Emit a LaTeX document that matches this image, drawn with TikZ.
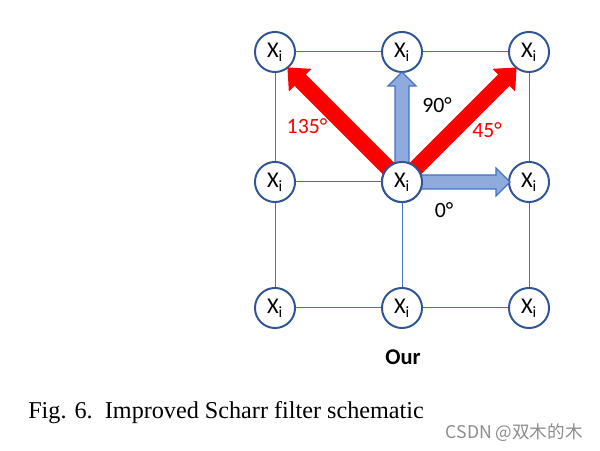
\documentclass[tikz,border=0pt]{standalone}
\usepackage{fontspec}
\setmainfont{Liberation Serif}
\newfontfamily\labelfont{Carlito}
\newfontfamily\cjkfont{Noto Sans CJK SC}
\definecolor{gridblue}{HTML}{4472C4}
\definecolor{ringblue}{HTML}{2F5597}
\definecolor{arrowblue}{HTML}{8FAADC}
\tikzset{
  xnode/.style={circle, draw=ringblue, line width=1.4pt, fill=white, minimum size=28.5pt, inner sep=0pt, font=\labelfont\fontsize{16}{16}\selectfont},
  gridline/.style={draw=gridblue, line width=0.7pt},
  redarrow/.style={fill=red},
  bluearrow/.style={fill=arrowblue, draw=gridblue, line width=0.8pt},
  anglelabel/.style={font=\labelfont\fontsize{15.5}{15.5}\selectfont}
}
\newcommand{\xlabel}{X\textsubscript{i}}
\begin{document}
\begin{tikzpicture}[x=0.025cm, y=0.025cm]
      \useasboundingbox (0,0) rectangle (600,451);

      % Grid of pixels
      \node[xnode] (x11) at (275,399) {\xlabel};
      \node[xnode] (x12) at (402,399) {\xlabel};
      \node[xnode] (x13) at (529,399) {\xlabel};
      \node[xnode] (x21) at (275,269) {\xlabel};
      \node[xnode] (x22) at (402,269) {\xlabel};
      \node[xnode] (x23) at (529,269) {\xlabel};
      \node[xnode] (x31) at (275,143) {\xlabel};
      \node[xnode] (x32) at (402,143) {\xlabel};
      \node[xnode] (x33) at (529,143) {\xlabel};

      % Connecting lines
      \draw[gridline] (x11) -- (x12) -- (x13);
      \draw[gridline] (x21) -- (x22) -- (x23);
      \draw[gridline] (x31) -- (x32) -- (x33);
      \draw[gridline] (x11) -- (x21) -- (x31);
      \draw[gridline] (x12) -- (x22) -- (x32);
      \draw[gridline] (x13) -- (x23) -- (x33);

      % Red arrows 135 and 45 degrees
      \fill[redarrow, shift={(x22.center)}, rotate=135]
        (0,-8) -- (144,-8) -- (144,-16) -- (162,0) -- (144,16) -- (144,8) -- (0,8) -- cycle;
      \fill[redarrow, shift={(x22.center)}, rotate=45]
        (0,-8) -- (144,-8) -- (144,-16) -- (162,0) -- (144,16) -- (144,8) -- (0,8) -- cycle;

      % Blue arrows 90 and 0 degrees
      \filldraw[bluearrow, shift={(x22.center)}, rotate=90]
        (0,-7) -- (96,-7) -- (96,-14) -- (110,0) -- (96,14) -- (96,7) -- (0,7) -- cycle;
      \filldraw[bluearrow, shift={(x22.center)}]
        (0,-7) -- (94,-7) -- (94,-14) -- (108,0) -- (94,14) -- (94,7) -- (0,7) -- cycle;

      % Centre pixel on top
      \node[xnode] at (x22) {\xlabel};

      % Angle labels
      \node[anglelabel, text=red] (a135) at (307,325) {135°};
      \node[anglelabel] (a90) at (437,346) {90°};
      \node[anglelabel, text=red] (a45) at (487,321) {45°};
      \node[anglelabel] (a0) at (444,241) {0°};

      % Title and caption
      \node[font=\labelfont\bfseries\fontsize{16}{16}\selectfont] (our) at (403,94) {Our};
      \node[anchor=west, inner sep=0pt, font=\fontsize{17.2}{17.2}\selectfont] (cap) at (28,38) {Fig. 6.\ \ Improved Scharr filter schematic};
      \node[anchor=east, inner sep=0pt, text=black!45, font=\cjkfont\fontsize{12.5}{12.5}\selectfont] (mark) at (583,18) {CSDN @双木的木};
    \end{tikzpicture}
\end{document}
